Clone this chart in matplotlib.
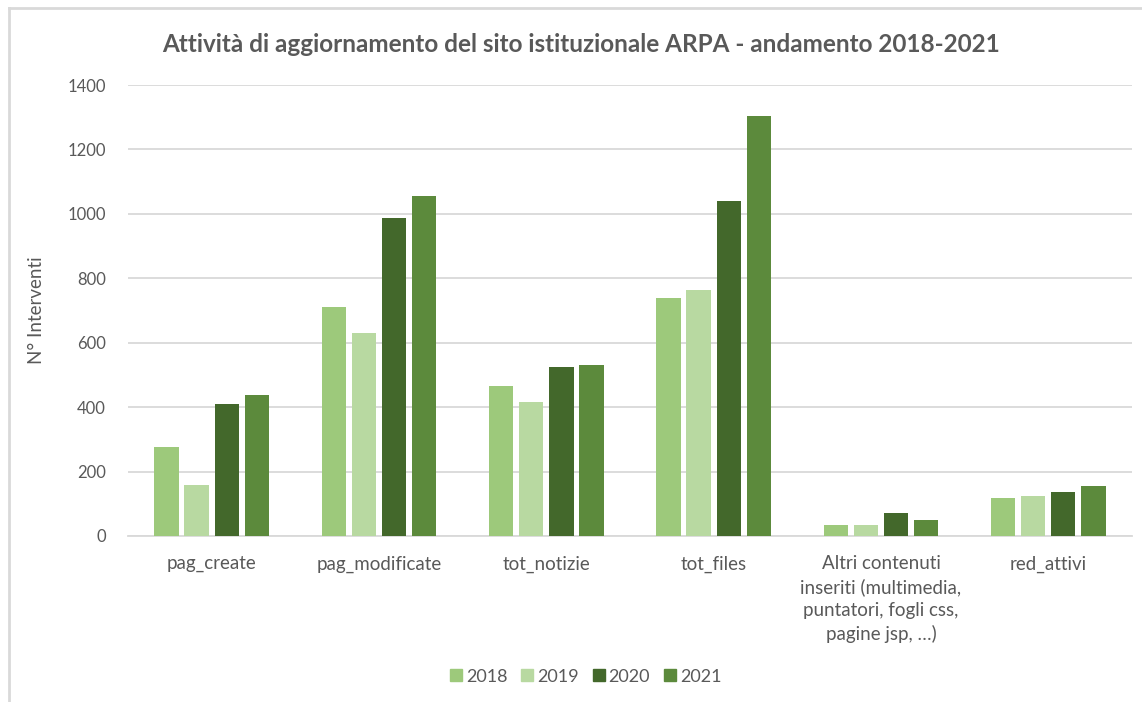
import matplotlib.pyplot as plt
import numpy as np
from matplotlib.lines import Line2D

categories = [
    "pag_create",
    "pag_modificate",
    "tot_notizie",
    "tot_files",
    "Altri contenuti\ninseriti (multimedia,\npuntatori, fogli css,\npagine jsp, \u2026)",
    "red_attivi",
]
years = ["2018", "2019", "2020", "2021"]
v2018 = [277, 710, 465, 740, 33, 119]
v2019 = [158, 631, 417, 763, 33, 125]
v2020 = [409, 986, 524, 1039, 72, 135]
v2021 = [438, 1055, 530, 1305, 50, 155]
colors = ["#9DC97B", "#B8D9A1", "#43682B", "#5C8A3C"]

TEXT = "#595959"
GRID = "#D9D9D9"

plt.rcParams["font.family"] = ["Lato", "DejaVu Sans"]

fig = plt.figure(figsize=(11.42, 7.02), dpi=100)
ax = fig.add_axes([0.1121, 0.2365, 0.8791, 0.6424])

x = np.arange(len(categories))
step = 0.18
width = 0.145
for i, (vals, col, yr) in enumerate(zip([v2018, v2019, v2020, v2021], colors, years)):
    ax.bar(x + (i - 1.5) * step, vals, width=width, color=col, label=yr, zorder=3)

ax.set_xlim(-0.5, len(categories) - 0.5)
ax.set_ylim(0, 1400)
ax.set_yticks(np.arange(0, 1401, 200))
ax.yaxis.grid(True, color=GRID, linewidth=1.3, zorder=0)
ax.set_axisbelow(True)
for s in ["top", "right", "left"]:
    ax.spines[s].set_visible(False)
ax.spines["bottom"].set_color(GRID)
ax.spines["bottom"].set_linewidth(1.3)
ax.tick_params(axis="both", length=0, colors=TEXT)
ax.tick_params(axis="y", pad=16, labelsize=12)
ax.tick_params(axis="x", pad=14, labelsize=13.5)
ax.set_xticks(x)
ax.set_xticklabels(categories, linespacing=1.4)

ax.set_ylabel("N° Interventi", color=TEXT, fontsize=13.5, labelpad=16)

fig.text(0.509, 0.936, "Attività di aggiornamento del sito istituzionale ARPA - andamento 2018-2021",
         ha="center", va="center", fontsize=17.5, fontweight="bold", color=TEXT)

handles = [Line2D([], [], marker="s", linestyle="none", markersize=9,
                  markerfacecolor=c, markeredgecolor=c) for c in colors]
fig.legend(handles, years, loc="center", bbox_to_anchor=(0.511, 0.036), ncol=4,
           frameon=False, fontsize=13, labelcolor=TEXT, handletextpad=0.0,
           handlelength=1.1, columnspacing=0.55)

# chart frame (left and top edges)
fig.add_artist(Line2D([0.0075, 0.0075], [0, 0.988], transform=fig.transFigure, color=GRID, lw=2))
fig.add_artist(Line2D([0.0075, 1.0], [0.988, 0.988], transform=fig.transFigure, color=GRID, lw=2))

fig.savefig("out.png", dpi=100, facecolor="white")
